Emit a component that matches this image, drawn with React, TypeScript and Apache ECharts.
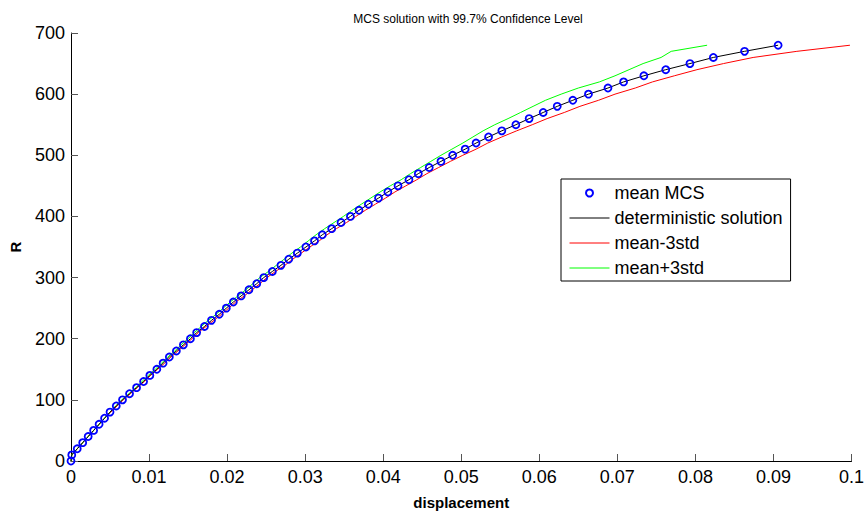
import React, { useEffect, useRef } from "react";
import * as echarts from "echarts";

const TITLE = "MCS solution with 99.7% Confidence Level";
const X_NAME = "displacement";
const Y_NAME = "R";
const SERIES_NAMES = ["mean MCS", "deterministic solution", "mean-3std", "mean+3std"];

// R levels (load) at which displacements are sampled
const R_VALUES = [
  0, 10, 20, 30, 40, 50, 60, 70, 80, 90,
  100, 110, 120, 130, 140, 150, 160, 170, 180, 190,
  200, 210, 220, 230, 240, 250, 260, 270, 280, 290,
  300, 310, 320, 330, 340, 350, 360, 370, 380, 390,
  400, 410, 420, 430, 440, 450, 460, 470, 480, 490,
  500, 510, 520, 530, 540, 550, 560, 570, 580, 590,
  600, 610, 620, 630, 640, 650, 660, 670, 680,
];

const MEAN_MCS_D = [
  0, 0.0001, 0.0008, 0.0015, 0.0022, 0.0029, 0.0036, 0.0043, 0.005, 0.0058,
  0.0066, 0.0075, 0.0084, 0.0093, 0.0101, 0.011, 0.0118, 0.0126, 0.0135, 0.0144,
  0.0153, 0.0161, 0.0171, 0.018, 0.019, 0.0199, 0.0208, 0.0218, 0.0228, 0.0238,
  0.0247, 0.0258, 0.0269, 0.0279, 0.029, 0.0301, 0.0312, 0.0322, 0.0334, 0.0346,
  0.0358, 0.0369, 0.0381, 0.0394, 0.0406, 0.0419, 0.0433, 0.0445, 0.0459, 0.0474,
  0.0489, 0.0505, 0.0519, 0.0535, 0.0552, 0.057, 0.0587, 0.0605, 0.0623, 0.0643,
  0.0663, 0.0688, 0.0708, 0.0734, 0.0762, 0.0793, 0.0823, 0.0863, 0.0906,
];

const DETERMINISTIC_D = [
  0, 0.0001, 0.0008, 0.0015, 0.0022, 0.0029, 0.0036, 0.0043, 0.005, 0.0058,
  0.0066, 0.0075, 0.0084, 0.0093, 0.0101, 0.011, 0.0118, 0.0126, 0.0135, 0.0144,
  0.0153, 0.0161, 0.0171, 0.018, 0.019, 0.0199, 0.0208, 0.0218, 0.0228, 0.0238,
  0.0247, 0.0258, 0.0269, 0.0279, 0.029, 0.0301, 0.0312, 0.0322, 0.0334, 0.0346,
  0.0358, 0.0369, 0.0381, 0.0394, 0.0406, 0.0419, 0.0433, 0.0445, 0.0459, 0.0474,
  0.0489, 0.0505, 0.0519, 0.0535, 0.0552, 0.057, 0.0587, 0.0605, 0.0623, 0.0643,
  0.0663, 0.0688, 0.0708, 0.0734, 0.0762, 0.0793, 0.0823, 0.0863, 0.0906,
];

const MINUS_3STD_D = [
  0, 0.0001, 0.0008, 0.0015, 0.0022, 0.0029, 0.0036, 0.0043, 0.0051, 0.0059,
  0.0067, 0.0076, 0.0085, 0.0094, 0.0102, 0.0111, 0.012, 0.0128, 0.0137, 0.0146,
  0.0155, 0.0163, 0.0173, 0.0183, 0.0193, 0.0202, 0.0211, 0.0222, 0.0232, 0.0242,
  0.0251, 0.0262, 0.0274, 0.0284, 0.0295, 0.0306, 0.0318, 0.0328, 0.034, 0.0353,
  0.0365, 0.0377, 0.039, 0.0403, 0.0415, 0.0429, 0.0443, 0.0456, 0.0471, 0.0486,
  0.0502, 0.0519, 0.0534, 0.0552, 0.0571, 0.0591, 0.061, 0.0632, 0.0652, 0.0676,
  0.0697, 0.0723, 0.0745, 0.0773, 0.0802, 0.0836, 0.0874, 0.093, 0.0998,
];

const PLUS_3STD_D = [
  0, 0.0001, 0.0008, 0.0015, 0.0022, 0.0029, 0.0036, 0.0043, 0.005, 0.0057,
  0.0065, 0.0074, 0.0083, 0.0091, 0.0099, 0.0108, 0.0116, 0.0124, 0.0133, 0.0141,
  0.015, 0.0158, 0.0167, 0.0176, 0.0186, 0.0195, 0.0204, 0.0214, 0.0224, 0.0233,
  0.0242, 0.0253, 0.0263, 0.0273, 0.0283, 0.0294, 0.0304, 0.0314, 0.0325, 0.0337,
  0.0349, 0.036, 0.0372, 0.0384, 0.0396, 0.0409, 0.0423, 0.0435, 0.0448, 0.0461,
  0.0474, 0.0488, 0.0502, 0.0515, 0.0528, 0.0543, 0.056, 0.0576, 0.0592, 0.0608,
  0.0628, 0.065, 0.0677, 0.0697, 0.0715, 0.0733, 0.0756, 0.0769, 0.0815,
];

const X_MIN = 0;
const X_MAX = 0.1;
const X_STEP = 0.01;
const Y_MIN = 0;
const Y_MAX = 700;
const Y_STEP = 100;

const pairs = (ds: number[], rs: number[]) => ds.map((d, i) => [d, rs[i]]);

export default function App() {
  const ref = useRef<HTMLDivElement>(null);

  useEffect(() => {
    if (!ref.current) return;
    const chart = echarts.init(ref.current, null, { renderer: "svg" });
    const font = "'Liberation Sans', Arial, Helvetica, sans-serif";
    const hiddenMarker = { color: "rgba(0,0,0,0)", borderColor: "rgba(0,0,0,0)", borderWidth: 0 };
    chart.setOption({
      animation: false,
      backgroundColor: "#ffffff",
      textStyle: { fontFamily: font },
      title: {
        text: TITLE,
        left: 463,
        top: 8,
        textAlign: "center",
        textStyle: { fontSize: 12, fontWeight: "normal", color: "#000", fontFamily: font },
      },
      grid: { left: 70, right: 11, top: 33, bottom: 43, containLabel: false },
      legend: {
        orient: "vertical",
        left: 561,
        top: 179,
        padding: [5, 8, 4, 8],
        itemGap: 7,
        itemWidth: 40,
        itemHeight: 7,
        borderColor: "#000",
        borderWidth: 1,
        backgroundColor: "#fff",
        borderRadius: 0,
        lineStyle: { width: 1 },
        textStyle: { fontSize: 18, color: "#000", fontFamily: font },
        data: [
          { name: SERIES_NAMES[0] },
          { name: SERIES_NAMES[1], itemStyle: hiddenMarker },
          { name: SERIES_NAMES[2], itemStyle: hiddenMarker },
          { name: SERIES_NAMES[3], itemStyle: hiddenMarker },
        ],
      },
      xAxis: {
        type: "value",
        min: X_MIN,
        max: X_MAX,
        interval: X_STEP,
        name: X_NAME,
        nameLocation: "middle",
        nameGap: 34,
        nameTextStyle: { fontSize: 15, fontWeight: "bold", color: "#000", fontFamily: font },
        axisLine: { show: true, onZero: false, lineStyle: { color: "#000", width: 1 } },
        axisTick: { show: true, inside: true, length: 7, lineStyle: { color: "#555" } },
        axisLabel: {
          fontSize: 18,
          color: "#000",
          margin: 7,
          fontFamily: font,
          formatter: (v: number) => String(+v.toFixed(2)),
        },
        splitLine: { show: false },
      },
      yAxis: {
        type: "value",
        min: Y_MIN,
        max: Y_MAX,
        interval: Y_STEP,
        name: Y_NAME,
        nameLocation: "middle",
        nameGap: 48,
        nameTextStyle: { fontSize: 15, fontWeight: "bold", color: "#000", fontFamily: font },
        axisLine: { show: true, onZero: false, lineStyle: { color: "#000", width: 1 } },
        axisTick: { show: true, inside: true, length: 7, lineStyle: { color: "#555" } },
        axisLabel: { fontSize: 18, color: "#000", margin: 6, fontFamily: font },
        splitLine: { show: false },
      },
      series: [
        {
          name: SERIES_NAMES[2],
          type: "line",
          data: pairs(MINUS_3STD_D, R_VALUES),
          symbol: "none",
          lineStyle: { color: "#ff0000", width: 1 },
          itemStyle: { color: "#ff0000" },
          z: 2,
        },
        {
          name: SERIES_NAMES[3],
          type: "line",
          data: pairs(PLUS_3STD_D, R_VALUES),
          symbol: "none",
          lineStyle: { color: "#00ff00", width: 1 },
          itemStyle: { color: "#00ff00" },
          z: 2,
        },
        {
          name: SERIES_NAMES[1],
          type: "line",
          data: pairs(DETERMINISTIC_D, R_VALUES),
          symbol: "none",
          lineStyle: { color: "#000000", width: 1 },
          itemStyle: { color: "#000000" },
          z: 3,
        },
        {
          name: SERIES_NAMES[0],
          type: "scatter",
          data: pairs(MEAN_MCS_D, R_VALUES),
          symbol: "circle",
          symbolSize: 7,
          itemStyle: { color: "rgba(0,0,0,0)", borderColor: "#0000ff", borderWidth: 1.8, opacity: 1 },
          z: 4,
        },
      ],
    });
    return () => chart.dispose();
  }, []);

  return (
    <div
      ref={ref}
      style={{ position: "absolute", left: 0, top: 0, width: 867, height: 515, background: "#fff" }}
    />
  );
}
